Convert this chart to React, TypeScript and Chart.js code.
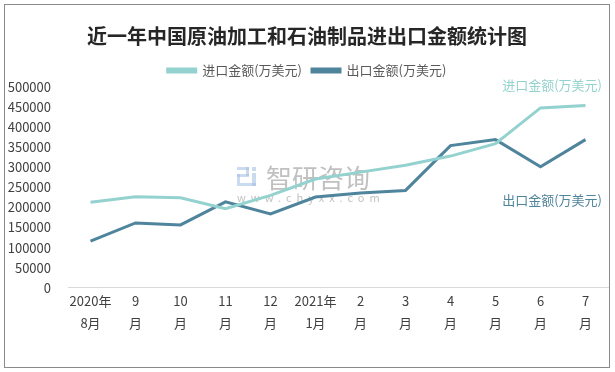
import React, { useEffect, useRef } from "react";
import { Chart, registerables } from "chart.js";
Chart.register(...registerables);

const categories: string[][] = [
  ["2020年", "8月"], ["9", "月"], ["10", "月"], ["11", "月"], ["12", "月"],
  ["2021年", "1月"], ["2", "月"], ["3", "月"], ["4", "月"], ["5", "月"], ["6", "月"], ["7", "月"],
];
const importValues = [213000, 226500, 224000, 197000, 230000, 271000, 288000, 305000, 328000, 359000, 448000, 454000];
const exportValues = [116000, 161500, 156500, 214000, 184000, 226000, 236000, 242500, 354000, 369000, 301500, 369000];
const importName = "进口金额(万美元)";
const exportName = "出口金额(万美元)";
const titleText = "近一年中国原油加工和石油制品进出口金额统计图";
const yMax = 500000;
const yStep = 50000;

const IMPORT_COLOR = "#93d2cf";
const EXPORT_COLOR = "#4e849c";
const FONT = "'Noto Sans CJK SC', 'Liberation Sans', sans-serif";

const decorPlugin = {
  id: "decor",
  beforeDatasetsDraw(chart: any) {
    const ctx = chart.ctx as CanvasRenderingContext2D;
    ctx.save();
    // watermark logo
    ctx.fillStyle = "rgba(160,190,225,0.55)";
    ctx.fillRect(237, 167, 12, 3);
    ctx.fillRect(246, 167, 3, 9);
    ctx.fillRect(237, 174, 12, 3);
    ctx.fillRect(237, 174, 3, 12);
    ctx.fillRect(252, 167, 4, 4);
    ctx.fillRect(252, 173, 4, 13);
    ctx.fillRect(240, 183, 16, 3);
    // watermark text
    ctx.fillStyle = "rgba(150,150,150,0.6)";
    ctx.font = `26px ${FONT}`;
    ctx.textBaseline = "middle";
    ctx.textAlign = "left";
    ctx.fillText("智研咨询", 266, 178);
    ctx.font = `11px ${FONT}`;
    (ctx as any).letterSpacing = "5px";
    ctx.fillText("www.chyxx.com", 237, 198);
    ctx.restore();
  },
  afterDraw(chart: any) {
    const ctx = chart.ctx as CanvasRenderingContext2D;
    ctx.save();
    ctx.strokeStyle = "#8a8a8a";
    ctx.lineWidth = 1;
    ctx.strokeRect(4.5, 4.5, 605, 363);
    ctx.font = `13px ${FONT}`;
    ctx.textAlign = "right";
    ctx.textBaseline = "middle";
    ctx.fillStyle = IMPORT_COLOR;
    ctx.fillText(importName, 602, 85);
    ctx.fillStyle = EXPORT_COLOR;
    ctx.fillText(exportName, 602, 200);
    ctx.restore();
  },
};

export default function App() {
  const ref = useRef<HTMLCanvasElement | null>(null);
  useEffect(() => {
    document.body.style.margin = "0";
    const chart = new Chart(ref.current!, {
      type: "line",
      data: {
        labels: categories as any,
        datasets: [
          {
            label: importName,
            data: importValues,
            borderColor: IMPORT_COLOR,
            backgroundColor: IMPORT_COLOR,
            borderWidth: 3,
            pointRadius: 0,
            tension: 0,
          },
          {
            label: exportName,
            data: exportValues,
            borderColor: EXPORT_COLOR,
            backgroundColor: EXPORT_COLOR,
            borderWidth: 3,
            pointRadius: 0,
            tension: 0,
          },
        ],
      },
      options: {
        responsive: false,
        animation: false,
        layout: { padding: { left: 6, right: 7, top: 8, bottom: 36 } },
        plugins: {
          title: {
            display: true,
            text: titleText,
            color: "#262626",
            font: { family: FONT, size: 20, weight: "bold" },
            padding: { top: 16, bottom: 6 },
          },
          legend: {
            display: true,
            labels: {
              boxWidth: 28,
              boxHeight: 3,
              color: "#595959",
              font: { family: FONT, size: 13 },
              padding: 10,
            },
          },
          tooltip: { enabled: false },
        },
        scales: {
          x: {
            offset: true,
            grid: { display: false, offset: true, drawTicks: false },
            border: { display: true, color: "#d9d9d9", width: 1 },
            ticks: {
              color: "#404040",
              font: { family: FONT, size: 13, lineHeight: 1.7 },
              maxRotation: 0,
              autoSkip: false,
              padding: 2,
            },
          },
          y: {
            min: 0,
            max: yMax,
            grid: { display: false, drawTicks: false },
            border: { display: false },
            ticks: {
              stepSize: yStep,
              color: "#404040",
              font: { family: FONT, size: 13 },
              padding: 17,
              callback: (v: any) => String(v),
            },
            afterFit(scale: any) {
              scale.width = 62;
            },
          },
        },
      },
      plugins: [decorPlugin],
    });
    return () => chart.destroy();
  }, []);
  return <canvas ref={ref} width={615} height={372} />;
}
